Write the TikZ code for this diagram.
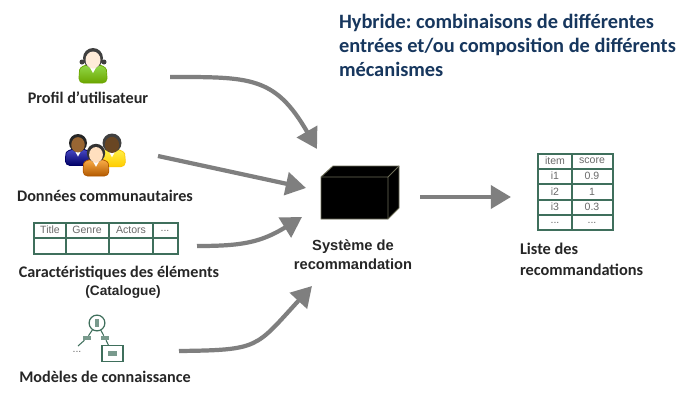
\documentclass[tikz,border=0pt]{standalone}
\usepackage{fontspec}
\setmainfont{Liberation Sans}
\newfontfamily\califont{Carlito}
\usetikzlibrary{arrows.meta}
\definecolor{titleblue}{HTML}{17375E}
\definecolor{tablegreen}{HTML}{3F6F5C}
\definecolor{arrowgray}{HTML}{7F7F7F}
\definecolor{celltext}{HTML}{6A6A6A}
\definecolor{labeltext}{HTML}{262626}
\definecolor{boxedge}{HTML}{6E6E58}
\newcommand{\person}[7]{% x, y of the head, scale, body, body dark, skin, hair
  \begin{scope}[shift={(#1,#2)},scale=#3]
    \draw[draw=#5,top color=#4!70!white,bottom color=#5,rounded corners=2.5]
      (-14,25) -- (-14,16) .. controls (-13,9) and (-7,7) .. (-5,6) -- (5,6)
      .. controls (7,7) and (13,9) .. (14,16) -- (14,25) -- cycle;
    \fill[white] (-5,6) -- (0,15) -- (5,6) -- cycle;
    \fill[#7] (0,0) circle (10);
    \fill[#6] (0,2) ellipse (7.5 and 8.5);
  \end{scope}}
\begin{document}
\begin{tikzpicture}[x=0.02cm,y=-0.02cm,inner sep=0pt,outer sep=0pt,
label1/.style={font=\califont\fontsize{9.2}{11}\selectfont\bfseries,text=labeltext},
label2/.style={font=\fontsize{8.35}{10.8}\selectfont\bfseries,text=labeltext,align=center},
label3/.style={font=\califont\fontsize{9.3}{12}\selectfont\bfseries,text=labeltext,align=left},
cell/.style={font=\fontsize{6}{7}\selectfont,text=celltext},
flow/.style={line width=2.4pt,draw=arrowgray,-{Triangle[length=11.5pt,width=13pt,fill=arrowgray]}},
grid/.style={draw=tablegreen,line width=0.8pt},
rulemark/.style={fill=tablegreen!70,minimum width=5pt,minimum height=2.6pt},
edgeline/.style={draw=boxedge,line width=0.5pt}]
\useasboundingbox[fill=white] (0,0) rectangle (700,406);
\frenchspacing

% title
\node[anchor=west,align=left,text=titleblue,font=\califont\fontsize{11.6}{13.65}\selectfont\bfseries] (title) at (339,45)
  {Hybride: combinaisons de différentes\\entrées et/ou composition de différents\\mécanismes};

% user
\fill[black!75] (82,62) circle (2.5) (104,62) circle (2.5);
\person{93}{58}{1}{green!50!yellow!80!black}{green!35!yellow!65!black}{orange!15!white}{black!75}
\node[label1] (profil) at (88,98) {Profil d’utilisateur};

% community
\person{78}{143}{0.9}{blue!70!black}{blue!40!black}{brown!80!black}{black!85}
\person{112}{143}{0.95}{yellow!85!orange}{yellow!60!orange}{brown!55!black}{black!75}
\person{96}{153}{0.92}{orange!85!yellow}{orange!70!black}{orange!25!white}{black!80}
\node[label1] (donnees) at (105,196) {Données communautaires};

% catalogue table
\draw[grid] (34,223) rectangle (178,254);
\draw[grid] (34,238) -- (178,238);
\foreach \x in {66,109,153} \draw[grid] (\x,223) -- (\x,254);
\node[cell] (title1) at (50,230) {Title};
\node[cell] (genre) at (87,230) {Genre};
\node[cell] (actors) at (131,230) {Actors};
\node[cell] (dots1) at (165,231) {...};
\node[label1] (carac) at (119,273) {Caractéristiques des éléments};
\node[font=\fontsize{7.8}{9}\selectfont\bfseries,text=labeltext] (catalogue) at (123,292) {(Catalogue)};

% knowledge tree
\node[draw=tablegreen,line width=0.7pt,circle,minimum width=9pt] (root) at (97,323) {};
\node[fill=tablegreen!70,minimum width=2pt,minimum height=4.5pt] (rootmark) at (97,323) {};
\node[rulemark] (leftrule) at (87,338) {};
\node[rulemark] (rightrule) at (105,338) {};
\node[draw=tablegreen,line width=0.7pt,minimum width=12pt,minimum height=9.5pt] (leaf) at (112.5,353.5) {};
\node[rulemark] (leafmark) at (112.5,353.5) {};
\coordinate (leftend) at (78,346);
\node[cell] (dots2) at (77,352) {...};
\draw[tablegreen,line width=0.6pt] (root) -- (leftrule) -- (leftend);
\draw[tablegreen,line width=0.6pt] (root) -- (rightrule) -- (leaf);
\node[label1] (modeles) at (105,377) {Modèles de connaissance};

% black box
\fill[black] (321,177) -- (333,166) -- (399,166) -- (399,208) -- (388,219) -- (321,219) -- cycle;
\draw[edgeline] (321,177) -- (333,166) -- (399,166) -- (399,208) -- (388,219) -- (321,219) -- cycle;
\draw[edgeline] (321,177) -- (388,177) -- (388,219) (388,177) -- (399,166);
\node[label2] (systeme) at (353,255) {Système de\\recommandation};

% result table
\draw[grid] (538,154) rectangle (613,230);
\foreach \y in {169,184,200,215} \draw[grid] (538,\y) -- (613,\y);
\draw[grid] (572,154) -- (572,230);
\node[cell] (item) at (555,161) {item};
\node[cell] (score) at (592,161) {score};
\node[cell] (i1) at (555,176) {i1};
\node[cell] (s1) at (592,176) {0.9};
\node[cell] (i2) at (555,192) {i2};
\node[cell] (s2) at (592,192) {1};
\node[cell] (i3) at (555,207) {i3};
\node[cell] (s3) at (592,207) {0.3};
\node[cell] (dots3) at (555,223) {...};
\node[cell] (dots4) at (592,223) {...};
\node[label3,anchor=west] (liste) at (520,259) {Liste des\\recommandations};

% connectors
\coordinate (from1) at (170,77);
\coordinate (to1) at (317,149);
\coordinate (from2) at (158,156);
\coordinate (to2) at (306,188);
\coordinate (from3) at (197,246);
\coordinate (to3) at (302,217);
\coordinate (from4) at (179,351);
\coordinate (to4) at (312,286);
\coordinate (from5) at (420,197);
\coordinate (to5) at (511,197);
\draw[flow] (from1) .. controls (250,77) and (275,76) .. (to1);
\draw[flow] (from2) -- (to2);
\draw[flow] (from3) .. controls (240,246) and (260,243) .. (to3);
\draw[flow] (from4) .. controls (260,350) and (255,348) .. (to4);
\draw[flow] (from5) -- (to5);
\end{tikzpicture}
\end{document}
